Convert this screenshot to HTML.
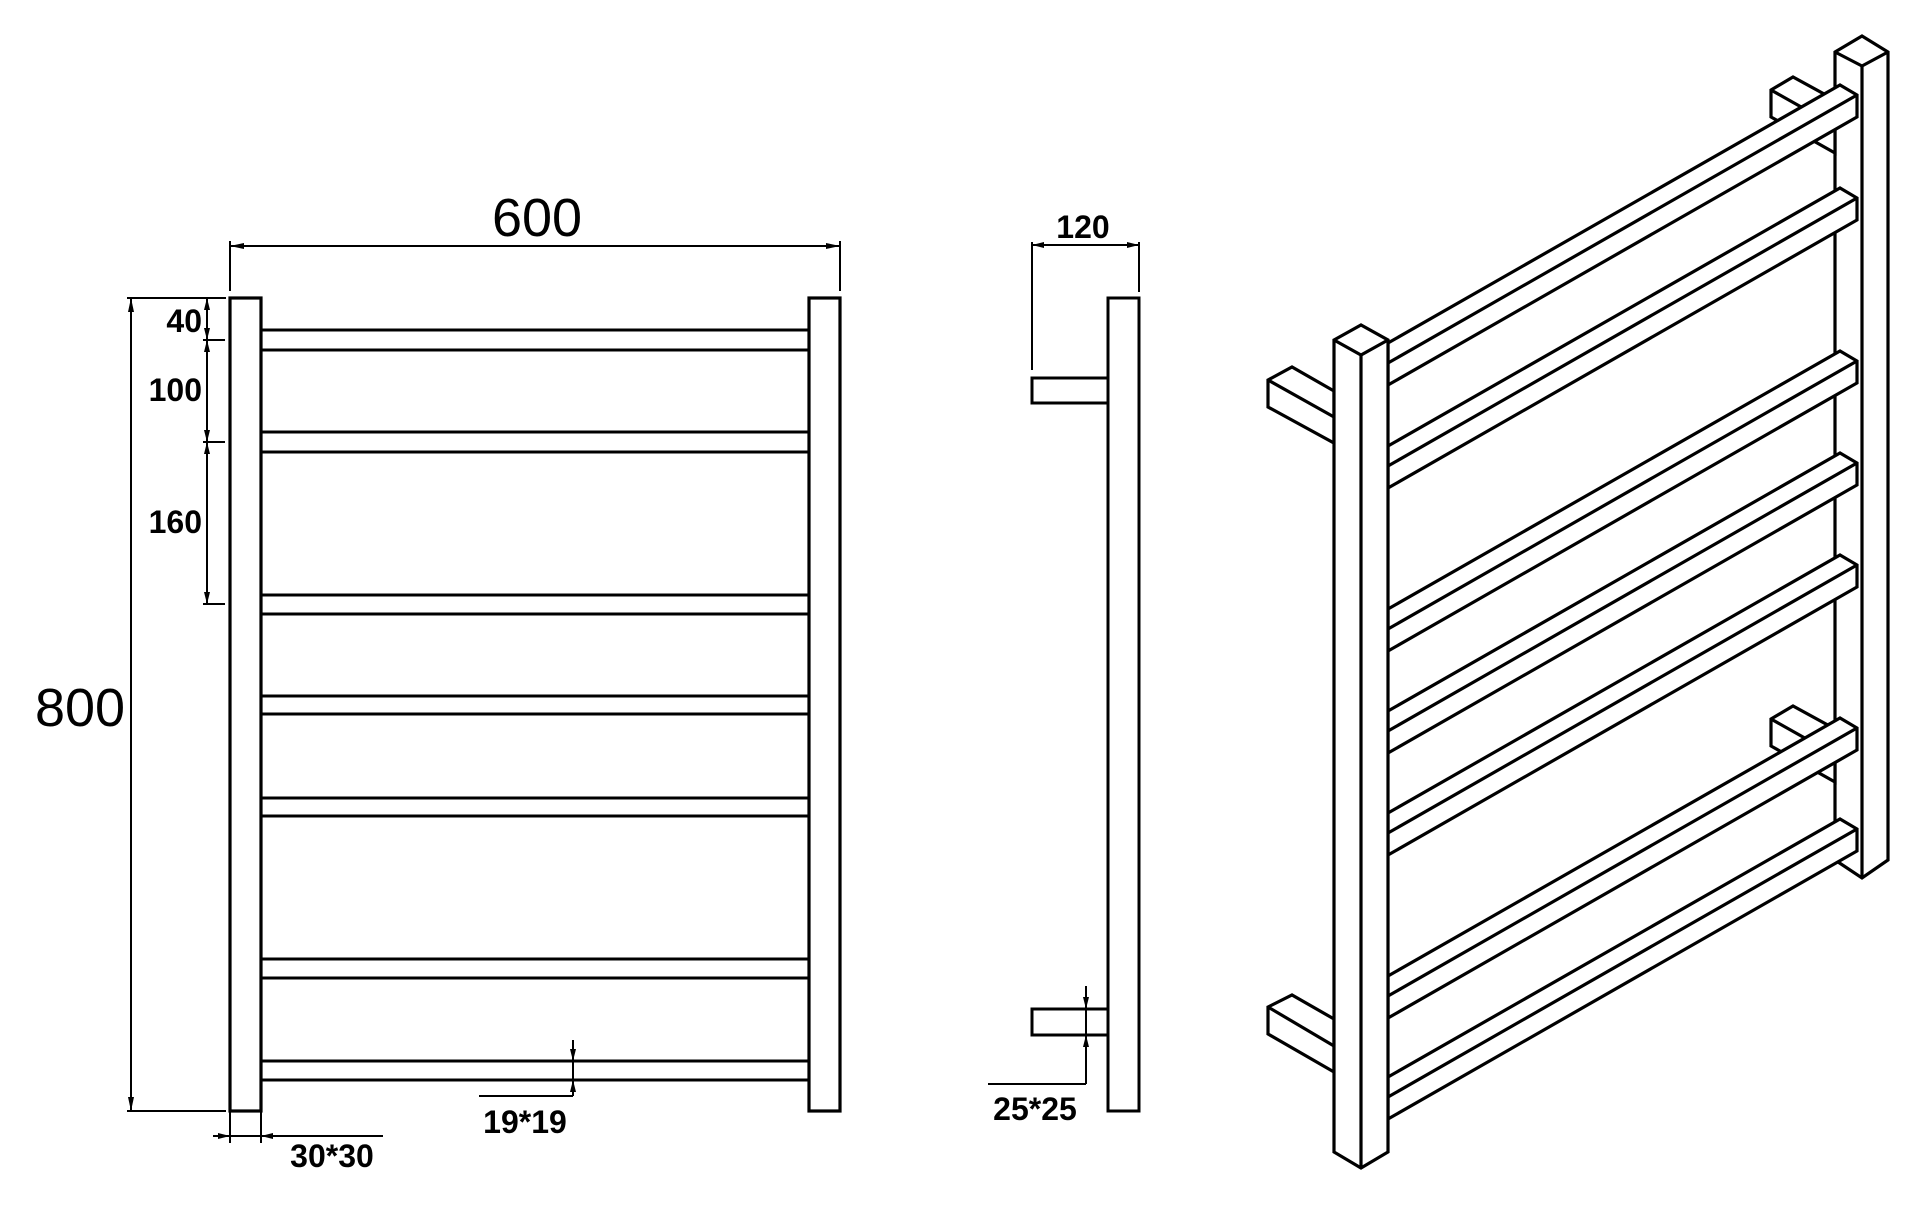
<!DOCTYPE html>
<html><head><meta charset="utf-8"><style>
html,body{margin:0;padding:0;background:#fff;}
svg{display:block;}
text{font-family:"Liberation Sans",Arial,sans-serif;fill:#000;}
</style></head><body>
<svg width="1925" height="1205" viewBox="0 0 1925 1205" xmlns="http://www.w3.org/2000/svg">
<g fill="none" stroke="#000" stroke-width="3.2" stroke-linejoin="miter">
<!-- FRONT VIEW -->
<rect x="230" y="298" width="31" height="813" fill="#fff"/>
<rect x="809" y="298" width="31" height="813" fill="#fff"/>
<g stroke-width="3">
<rect x="261" y="330" width="548" height="20"/>
<rect x="261" y="432" width="548" height="20"/>
<rect x="261" y="595" width="548" height="19"/>
<rect x="261" y="696" width="548" height="18"/>
<rect x="261" y="798" width="548" height="18"/>
<rect x="261" y="959" width="548" height="19"/>
<rect x="261" y="1061" width="548" height="19"/>
</g>
<g stroke-width="2">
<line x1="230" y1="246" x2="840" y2="246"/>
<line x1="230" y1="241" x2="230" y2="291"/>
<line x1="840" y1="241" x2="840" y2="291"/>
<line x1="131" y1="298" x2="131" y2="1111"/>
<line x1="127" y1="298" x2="226" y2="298"/>
<line x1="127" y1="1111" x2="226" y2="1111"/>
<line x1="207" y1="298" x2="207" y2="604"/>
<line x1="203" y1="340" x2="225" y2="340"/>
<line x1="203" y1="442" x2="225" y2="442"/>
<line x1="203" y1="604" x2="225" y2="604"/>
<line x1="230" y1="1111" x2="230" y2="1143"/>
<line x1="261" y1="1111" x2="261" y2="1143"/>
<line x1="213" y1="1136" x2="383" y2="1136"/>
<line x1="573" y1="1040" x2="573" y2="1096"/>
<line x1="479" y1="1096" x2="573" y2="1096"/>
<!-- SIDE VIEW -->
<line x1="1032" y1="245" x2="1139" y2="245"/>
<line x1="1032" y1="242" x2="1032" y2="370"/>
<line x1="1139" y1="242" x2="1139" y2="292"/>
<line x1="1086" y1="986" x2="1086" y2="1084"/>
<line x1="988" y1="1084" x2="1086" y2="1084"/>
</g>
<rect x="1108" y="298" width="31" height="813" stroke-width="3"/>
<rect x="1032" y="378" width="76" height="25" stroke-width="3"/>
<rect x="1032" y="1009" width="76" height="26" stroke-width="3"/>
</g>
<g fill="#000">
<polygon points="230,246 244,243 244,249"/>
<polygon points="840,246 826,243 826,249"/>
<polygon points="131,298 128,312 134,312"/>
<polygon points="131,1111 128,1097 134,1097"/>
<polygon points="207,298 204,310 210,310"/>
<polygon points="207,340 204,328 210,328"/>
<polygon points="207,340 204,352 210,352"/>
<polygon points="207,442 204,430 210,430"/>
<polygon points="207,442 204,454 210,454"/>
<polygon points="207,604 204,592 210,592"/>
<polygon points="230,1136 218,1133 218,1139"/>
<polygon points="261,1136 273,1133 273,1139"/>
<polygon points="573,1061 570,1049 576,1049"/>
<polygon points="573,1080 570,1092 576,1092"/>
<polygon points="1032,245 1044,242 1044,248"/>
<polygon points="1139,245 1127,242 1127,248"/>
<polygon points="1086,1009 1083,997 1089,997"/>
<polygon points="1086,1035 1083,1047 1089,1047"/>
</g>
<text x="537" y="236" font-size="54" text-anchor="middle">600</text>
<text x="80" y="726" font-size="54" text-anchor="middle">800</text>
<text x="202" y="332" font-size="32" font-weight="bold" text-anchor="end">40</text>
<text x="202" y="401" font-size="32" font-weight="bold" text-anchor="end">100</text>
<text x="202" y="533" font-size="32" font-weight="bold" text-anchor="end">160</text>
<text x="332" y="1167" font-size="32" font-weight="bold" text-anchor="middle">30*30</text>
<text x="525" y="1133" font-size="32" font-weight="bold" text-anchor="middle">19*19</text>
<text x="1083" y="238" font-size="32" font-weight="bold" text-anchor="middle">120</text>
<text x="1035" y="1120" font-size="32" font-weight="bold" text-anchor="middle">25*25</text>

<!-- ISO VIEW -->
<g fill="#fff" stroke="#000" stroke-width="3.2" stroke-linejoin="miter">
<polygon points="1835,52 1862,36 1888,52 1888,860 1862,878 1835,860"/>
<polyline points="1835,52 1862,66 1888,52" fill="none"/>
<line x1="1862" y1="66" x2="1862" y2="878"/>
<polygon points="1771,90 1793,77 1835,100 1835,153 1771,117"/>
<line x1="1771" y1="90" x2="1835" y2="126"/>
<polygon points="1771,719 1793,706 1835,729 1835,782 1771,746"/>
<line x1="1771" y1="719" x2="1835" y2="755"/>
<polygon points="1388,343 1840,85 1857,95 1857,117 1388,385"/><line x1="1388" y1="363" x2="1857" y2="95"/>
<polygon points="1388,446 1840,188 1857,198 1857,220 1388,488"/><line x1="1388" y1="466" x2="1857" y2="198"/>
<polygon points="1388,609 1840,351 1857,361 1857,383 1388,651"/><line x1="1388" y1="629" x2="1857" y2="361"/>
<polygon points="1388,711 1840,453 1857,463 1857,485 1388,753"/><line x1="1388" y1="731" x2="1857" y2="463"/>
<polygon points="1388,813 1840,555 1857,565 1857,587 1388,855"/><line x1="1388" y1="833" x2="1857" y2="565"/>
<polygon points="1388,976 1840,718 1857,728 1857,750 1388,1018"/><line x1="1388" y1="996" x2="1857" y2="728"/>
<polygon points="1388,1077 1840,819 1857,829 1857,851 1388,1119"/><line x1="1388" y1="1097" x2="1857" y2="829"/>
<polygon points="1268,380 1292,367 1334,391 1334,443 1268,407"/>
<line x1="1268" y1="380" x2="1334" y2="417"/>
<polygon points="1268,1007 1292,995 1334,1019 1334,1072 1268,1034"/>
<line x1="1268" y1="1007" x2="1334" y2="1046"/>
<polygon points="1334,340 1361,325 1388,340 1388,1152 1361,1168 1334,1152"/>
<polyline points="1334,340 1361,355 1388,340" fill="none"/>
<line x1="1361" y1="355" x2="1361" y2="1168"/>
</g>
</svg>
</body></html>
